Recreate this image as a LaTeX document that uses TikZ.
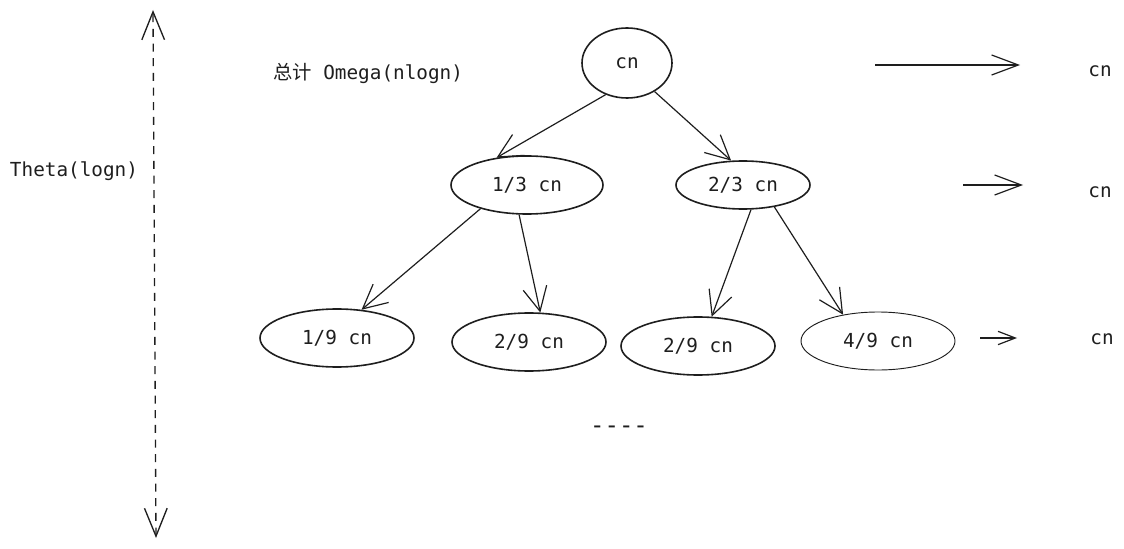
\documentclass[tikz,border=0pt]{standalone}
\usepackage{fontspec}
\setmonofont{DejaVu Sans Mono}
\newfontfamily\cjkfont{Noto Sans CJK SC}
\usetikzlibrary{arrows.meta, positioning, shapes.geometric}
\definecolor{cink}{HTML}{1E1E1E}
\tikzset{
  every picture/.style={font=\ttfamily\fontsize{14.5}{17}\selectfont, line width=0.9pt},
  blob/.style={ellipse, draw=cink, line width=#1, inner sep=0pt, text=cink, minimum width=115.5pt, minimum height=43.5pt},
  blob/.default=1.2pt,
  arrow/.style={-{Straight Barb[length=18pt, width=18pt]}, draw=cink, line width=0.9pt},
  longarrow/.style={-{Straight Barb[length=20pt, width=15pt]}, draw=cink, line width=0.9pt},
  note/.style={text=cink, inner sep=0pt},
}

\begin{document}
\begin{tikzpicture}[x=0.75pt, y=-0.75pt]
  \useasboundingbox (0,0) rectangle (1124,549);
  % tree levels
  \node[blob, minimum width=67.5pt, minimum height=52.5pt] (root) at (627,63) {cn};
  \node[blob, minimum width=114pt] (third) at (527,185) {1/3 cn};
  \node[blob, minimum width=100.5pt, minimum height=36pt] (twothird) at (743,185) {2/3 cn};
  \node[blob] (ninthA) at (337,338) {1/9 cn};
  \node[blob] (ninthB) at (529,342) {2/9 cn};
  \node[blob] (ninthC) at (698,346) {2/9 cn};
  \node[blob=0.7pt] (ninthD) at (878,341) {4/9 cn};
  \draw[arrow] (root.236) -- (third.138);
  \draw[arrow] (root.-46) -- (twothird.116);
  \draw[arrow] (third.207) -- (ninthA.49);
  \draw[arrow] (third.-105) -- (ninthB.69);
  \draw[arrow] (twothird.-72) -- (ninthC.65);
  \draw[arrow] (twothird.-35) -- (ninthD.143);
  \node[note, font=\ttfamily\fontsize{18}{20}\selectfont] (dots) at (619,430) {----};
  % cost per level
  \coordinate (rowA) at (875,65);  \coordinate (rowAend) at (1020,65);
  \coordinate (rowB) at (963,185); \coordinate (rowBend) at (1023,185);
  \coordinate (rowC) at (980,338); \coordinate (rowCend) at (1017,338);
  \draw[longarrow] (rowA) -- (rowAend);
  \draw[longarrow] (rowB) -- (rowBend);
  \draw[arrow, -{Straight Barb[length=13pt, width=10pt]}] (rowC) -- (rowCend);
  \node[note] (sumA) at (1100,71) {cn};
  \node[note] (sumB) at (1100,192) {cn};
  \node[note] (sumC) at (1102,339) {cn};
  \node[note] (total) at (368,73) {{\cjkfont 总计} Omega(nlogn)};
  % depth
  \coordinate (depthTop) at (153,10);
  \coordinate (depthBot) at (156,538);
  \draw[cink, line width=1pt, dash pattern=on 6pt off 5pt, {Straight Barb[length=21pt, width=17pt]}-{Straight Barb[length=21pt, width=17pt]}] (depthBot) -- (depthTop);
  \node[note] (depth) at (74,171) {Theta(logn)};
\end{tikzpicture}
\end{document}
